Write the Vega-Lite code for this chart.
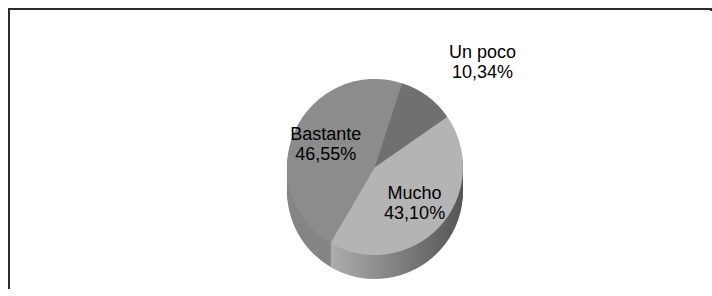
{
  "$schema": "https://vega.github.io/schema/vega-lite/v6.json",
  "width": 712,
  "height": 296,
  "autosize": {"type": "fit", "contains": "padding"},
  "padding": {"left": 8, "top": 8, "right": 0, "bottom": 0},
  "background": "white",
  "config": {
    "view": {"stroke": null},
    "locale": {"number": {"decimal": ",", "thousands": ".", "grouping": [3], "currency": ["", " €"]}}
  },
  "data": {
    "values": [
      {"respuesta": "Bastante", "porcentaje": 0.4655},
      {"respuesta": "Mucho", "porcentaje": 0.4310},
      {"respuesta": "Un poco", "porcentaje": 0.1034}
    ]
  },
  "layer": [
    {
      "data": {"values": [{}]},
      "mark": {"type": "rect", "fill": null, "stroke": "#2b2b2b", "strokeWidth": 2, "strokeDash": [704, 992, 288]},
      "encoding": {}
    },
    {
      "encoding": {
        "theta": {"field": "porcentaje", "type": "quantitative", "stack": true, "scale": {"range": [0.314, 6.597]}},
        "order": {"field": "respuesta", "sort": "descending"}
      },
      "layer": [
        {
          "encoding": {
            "color": {"condition": {"test": "datum.respuesta === 'Mucho'", "value": {"gradient": "linear", "x1": 0, "y1": 0, "x2": 1, "y2": 0, "stops": [{"offset": 0, "color": "#adadad"}, {"offset": 1, "color": "#555555"}]}}, "value": "#858585"}
          },
          "layer": [
            {"mark": {"type": "arc", "radius": 88, "xOffset": 15, "yOffset": 39}},
            {"mark": {"type": "arc", "radius": 88, "xOffset": 15, "yOffset": 37}},
            {"mark": {"type": "arc", "radius": 88, "xOffset": 15, "yOffset": 35}},
            {"mark": {"type": "arc", "radius": 88, "xOffset": 15, "yOffset": 33}},
            {"mark": {"type": "arc", "radius": 88, "xOffset": 15, "yOffset": 31}},
            {"mark": {"type": "arc", "radius": 88, "xOffset": 15, "yOffset": 29}},
            {"mark": {"type": "arc", "radius": 88, "xOffset": 15, "yOffset": 27}},
            {"mark": {"type": "arc", "radius": 88, "xOffset": 15, "yOffset": 25}},
            {"mark": {"type": "arc", "radius": 88, "xOffset": 15, "yOffset": 23}},
            {"mark": {"type": "arc", "radius": 88, "xOffset": 15, "yOffset": 21}},
            {"mark": {"type": "arc", "radius": 88, "xOffset": 15, "yOffset": 19}},
            {"mark": {"type": "arc", "radius": 88, "xOffset": 15, "yOffset": 17}}
          ]
        },
        {
          "mark": {"type": "arc", "radius": 88, "xOffset": 15, "yOffset": 15},
          "encoding": {
            "color": {"field": "respuesta", "type": "nominal", "legend": null,
              "scale": {"domain": ["Bastante", "Mucho", "Un poco"], "range": ["#8c8c8c", "#b4b4b4", "#707070"]}}
          }
        },
        {
          "mark": {"type": "text", "radius": 54, "xOffset": 15, "yOffset": 15, "dy": -10, "fontSize": 18, "font": "Liberation Sans", "color": "#000000"},
          "encoding": {
            "text": {"field": "respuesta", "type": "nominal"},
            "opacity": {"condition": {"test": "datum.respuesta === 'Un poco'", "value": 0}, "value": 1}
          }
        },
        {
          "mark": {"type": "text", "radius": 54, "xOffset": 15, "yOffset": 15, "dy": 10, "fontSize": 18, "font": "Liberation Sans", "color": "#000000"},
          "encoding": {
            "text": {"field": "porcentaje", "type": "quantitative", "format": ".2%"},
            "opacity": {"condition": {"test": "datum.respuesta === 'Un poco'", "value": 0}, "value": 1}
          }
        },
        {
          "mark": {"type": "text", "radius": 130, "xOffset": 15, "yOffset": 15, "dx": 30, "dy": -10, "fontSize": 18, "font": "Liberation Sans", "color": "#000000"},
          "encoding": {
            "text": {"field": "respuesta", "type": "nominal"},
            "opacity": {"condition": {"test": "datum.respuesta === 'Un poco'", "value": 1}, "value": 0}
          }
        },
        {
          "mark": {"type": "text", "radius": 130, "xOffset": 15, "yOffset": 15, "dx": 30, "dy": 10, "fontSize": 18, "font": "Liberation Sans", "color": "#000000"},
          "encoding": {
            "text": {"field": "porcentaje", "type": "quantitative", "format": ".2%"},
            "opacity": {"condition": {"test": "datum.respuesta === 'Un poco'", "value": 1}, "value": 0}
          }
        }
      ]
    }
  ]
}
